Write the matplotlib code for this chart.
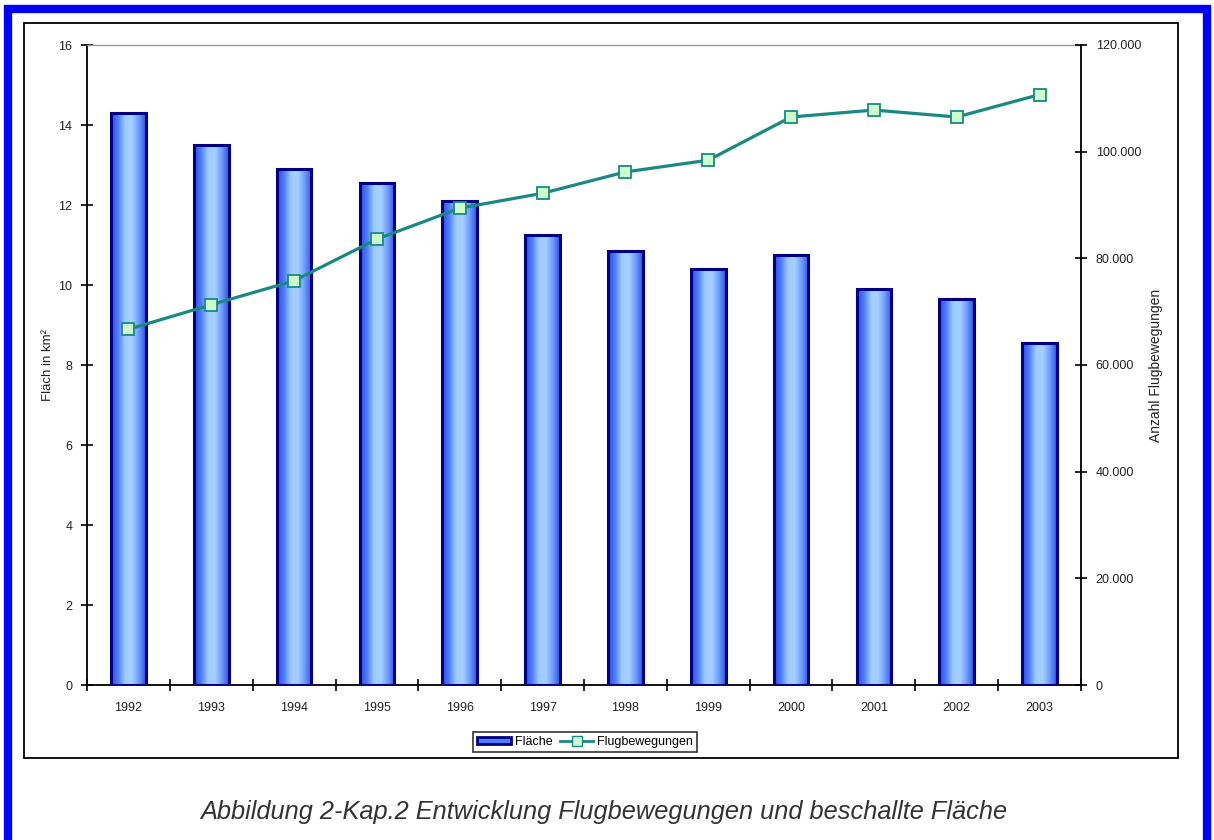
import numpy as np
import matplotlib
matplotlib.use("Agg")
import matplotlib.pyplot as plt
from matplotlib.patches import Rectangle
from matplotlib.colors import LinearSegmentedColormap
from matplotlib.lines import Line2D

years = ["1992", "1993", "1994", "1995", "1996", "1997",
         "1998", "1999", "2000", "2001", "2002", "2003"]
flaeche = [14.3, 13.5, 12.9, 12.55, 12.1, 11.25, 10.85, 10.4, 10.75, 9.9, 9.65, 8.55]
flugbewegungen = [66700, 71300, 75800, 83600, 89400, 92200,
                  96200, 98400, 106500, 107800, 106500, 110700]
left_ticks = [0, 2, 4, 6, 8, 10, 12, 14, 16]
right_ticks = [0, 20000, 40000, 60000, 80000, 100000, 120000]
right_tick_labels = ["0", "20.000", "40.000", "60.000", "80.000", "100.000", "120.000"]

plt.rcParams["font.family"] = ["Liberation Sans", "DejaVu Sans"]

W, H = 1214, 840
fig = plt.figure(figsize=(W / 100, H / 100), dpi=100)

# blue outer frame and black inner box
fig.patches.append(Rectangle((8 / W, -0.05), (1207 - 8) / W, (H - 9.5) / H + 0.05,
                             transform=fig.transFigure, fill=False,
                             edgecolor="#0000ff", linewidth=6, zorder=0))
fig.patches.append(Rectangle((24 / W, (H - 758) / H), (1178 - 24) / W, (758 - 23) / H,
                             transform=fig.transFigure, fill=False,
                             edgecolor="black", linewidth=1.3, zorder=0))

ax = fig.add_axes([87 / W, (H - 685) / H, 994 / W, 640 / H])
x = np.arange(len(years))

bars = ax.bar(x, flaeche, width=0.42, color="none", edgecolor="#000080",
              linewidth=2.2, zorder=3)
grad_cmap = LinearSegmentedColormap.from_list(
    "bar", ["#2a4fd8", "#4f7dff", "#9dcbff", "#a6d0ff", "#6f9cff", "#2f55e0"])
grad = np.linspace(0, 1, 64).reshape(1, -1)
for b in bars:
    ax.imshow(grad, cmap=grad_cmap, aspect="auto", zorder=2,
              extent=[b.get_x(), b.get_x() + b.get_width(), 0, b.get_height()])

ax.set_xlim(-0.5, len(years) - 0.5)
ax.set_ylim(0, 16)
ax.set_yticks(left_ticks)
ax.set_xticks(x)
ax.set_xticklabels(years)
ax.set_xticks(np.arange(len(years) + 1) - 0.5, minor=True)
ax.tick_params(axis="x", which="major", length=0, pad=12, labelsize=9, colors="#222222")
ax.tick_params(axis="x", which="minor", direction="inout", length=9, width=1.2)
ax.tick_params(axis="y", direction="inout", length=9, width=1.2, labelsize=9, pad=6,
               labelcolor="#222222")
ax.set_ylabel("Fläch in km²", fontsize=9.5, labelpad=3, color="#222222")

for s in ["left", "bottom"]:
    ax.spines[s].set_linewidth(1.3)
ax.spines["top"].set_color("#999999")
ax.spines["top"].set_linewidth(1)
ax.spines["right"].set_visible(False)

ax2 = ax.twinx()
ax2.plot(x, flugbewegungen, color="#188a82", linewidth=2.3, marker="s",
         markersize=9, markerfacecolor="#ccffcc", markeredgecolor="#188a82",
         markeredgewidth=1.3, zorder=5)
ax2.set_ylim(0, 120000)
ax2.set_yticks(right_ticks)
ax2.set_yticklabels(right_tick_labels)
ax2.tick_params(axis="y", direction="inout", length=9, width=1.2, labelsize=9, pad=6,
                labelcolor="#222222")
ax2.set_ylabel("Anzahl Flugbewegungen", fontsize=10, labelpad=6, rotation=90,
               color="#222222")
ax2.spines["right"].set_linewidth(1.3)
for s in ["top", "left", "bottom"]:
    ax2.spines[s].set_visible(False)
ax2.set_xlim(-0.5, len(years) - 0.5)

handles = [Rectangle((0, 0), 1, 1, facecolor="#4f7dff", edgecolor="#000080", linewidth=2),
           Line2D([], [], color="#188a82", linewidth=2, marker="s", markersize=7,
                  markerfacecolor="#ccffcc", markeredgecolor="#188a82")]
leg = fig.legend(handles, ["Fläche", "Flugbewegungen"], loc="center",
                 bbox_to_anchor=(585 / W, (H - 742) / H), ncol=2, fontsize=9,
                 frameon=True, fancybox=False, edgecolor="black", handlelength=2.7,
                 handleheight=0.5, columnspacing=0.6, handletextpad=0.3,
                 borderpad=0.35, borderaxespad=0)
leg.get_frame().set_linewidth(1.2)

fig.text(604 / W, (H - 812) / H,
         "Abbildung 2-Kap.2 Entwicklung Flugbewegungen und beschallte Fläche",
         ha="center", va="center", fontsize=18.3, style="italic", color="#333333")

fig.savefig("out.png", dpi=100)
